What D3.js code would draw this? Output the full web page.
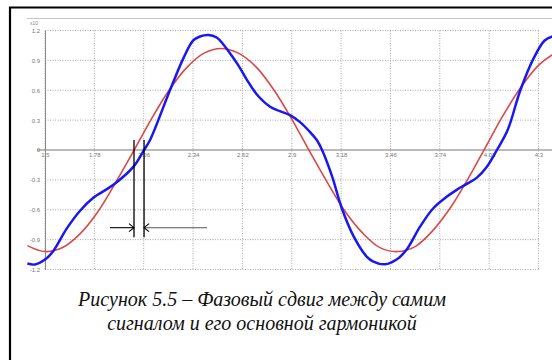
<!DOCTYPE html>
<html>
<head>
<meta charset="utf-8">
<script src="https://cdn.jsdelivr.net/npm/d3@7"></script>
<style>
  body { margin: 0; background: #fff; }
  svg { display: block; }
  .tick text { font-family: "Liberation Sans", Arial, sans-serif; font-size: 6px; fill: #777; }
  .caption { font-family: "Liberation Serif", "Times New Roman", serif; font-style: italic; font-size: 20px; fill: #111; }
</style>
</head>
<body>
<script>
var width = 552;
var height = 360;

// axis ticks
var xTicks = [1.5, 1.78, 2.06, 2.34, 2.62, 2.9, 3.18, 3.46, 3.74, 4.02, 4.3];
var yTicks = [1.2, 0.9, 0.6, 0.3, 0, -0.3, -0.6, -0.9, -1.2];

// fundamental harmonic (red)
var harmX = [1.4, 1.5, 1.6, 1.7, 1.8, 1.9, 2.0, 2.1, 2.2, 2.3, 2.4, 2.5, 2.6, 2.7, 2.8, 2.9, 3.0,
             3.1, 3.2, 3.3, 3.4, 3.5, 3.6, 3.7, 3.8, 3.9, 4.0, 4.1, 4.2, 4.3, 4.4];
var harmY = [-0.96, -1.02, -0.98, -0.84, -0.62, -0.33, -0.02, 0.30, 0.59, 0.82, 0.97, 1.02, 0.97, 0.83, 0.60, 0.31, -0.01,
             -0.32, -0.61, -0.83, -0.98, -1.02, -0.97, -0.81, -0.58, -0.29, 0.03, 0.35, 0.63, 0.85, 0.98];

// signal (blue)
var sigX = [1.40, 1.443, 1.50, 1.545, 1.623, 1.699, 1.774, 1.888, 2.001, 2.062, 2.096, 2.209, 2.285, 2.341, 2.379,
            2.427, 2.474, 2.512, 2.550, 2.597, 2.644, 2.701, 2.777, 2.833, 2.890, 2.947, 3.004, 3.042, 3.072,
            3.128, 3.183, 3.249, 3.325, 3.363, 3.429, 3.495, 3.552, 3.628, 3.703, 3.779, 3.836, 3.883, 3.949,
            4.006, 4.064, 4.125, 4.197, 4.275, 4.335, 4.38];
var sigY = [-1.14, -1.15, -1.10, -1.02, -0.79, -0.61, -0.48, -0.35, -0.17, 0.0, 0.10, 0.60, 0.92, 1.10, 1.14,
            1.155, 1.13, 1.06, 0.97, 0.85, 0.71, 0.56, 0.435, 0.39, 0.35, 0.28, 0.18, 0.10, 0.0,
            -0.26, -0.58, -0.86, -1.07, -1.12, -1.148, -1.10, -1.00, -0.77, -0.585, -0.47, -0.40, -0.35, -0.28,
            -0.17, 0.0, 0.20, 0.60, 0.93, 1.10, 1.14];

// phase shift markers: zero crossings of harmonic and signal
var shiftX = [2.005, 2.062];

var svg = d3.select('body').append('svg')
    .attr('width', width)
    .attr('height', height);

// page frame
svg.append('path')
    .attr('d', 'M10,360 V7.5 H552')
    .attr('fill', 'none')
    .attr('stroke', '#000')
    .attr('stroke-width', 2.2);

// screenshot edge
svg.append('line')
    .attr('x1', 27).attr('x2', width)
    .attr('y1', 18.5).attr('y2', 18.5)
    .attr('stroke', '#c4c4c4')
    .attr('stroke-width', 1.2);

var x = d3.scaleLinear().domain([1.5, 4.3]).range([45, 538.5]);
var y = d3.scaleLinear().domain([-1.2, 1.2]).range([269.5, 30.5]);

// grid
var grid = svg.append('g').attr('stroke', '#aaa').attr('stroke-dasharray', '1,1.5').attr('stroke-width', 1);
grid.selectAll('.vg').data(xTicks).enter().append('line')
    .attr('x1', function (d) { return x(d) }).attr('x2', function (d) { return x(d) })
    .attr('y1', y(1.2)).attr('y2', y(-1.2));
grid.selectAll('.hg').data(yTicks.filter(function (d) { return d !== 0 })).enter().append('line')
    .attr('x1', x(1.5)).attr('x2', x(4.3))
    .attr('y1', function (d) { return y(d) }).attr('y2', function (d) { return y(d) });

// axes
var xAxis = d3.axisBottom(x).tickValues(xTicks).tickSize(0).tickPadding(3)
    .tickFormat(function (d) { return String(d) });
svg.append('g')
    .attr('class', 'x axis')
    .attr('transform', 'translate(0,' + y(0) + ')')
    .call(xAxis)
    .call(function (g) { g.select('.domain').remove() });
svg.append('line')
    .attr('x1', 37).attr('x2', width)
    .attr('y1', y(0)).attr('y2', y(0))
    .attr('stroke', '#777').attr('stroke-width', 1);

var yAxis = d3.axisLeft(y).tickValues(yTicks).tickSize(0).tickPadding(5)
    .tickFormat(function (d) { return String(d) });
svg.append('g')
    .attr('class', 'y axis')
    .attr('transform', 'translate(' + x(1.5) + ',0)')
    .call(yAxis)
    .call(function (g) { g.select('.domain').attr('stroke', '#888') });

svg.append('text')
    .attr('x', 30).attr('y', 25)
    .style('font-family', 'Liberation Sans, sans-serif')
    .style('font-size', '5px')
    .style('fill', '#888')
    .text('x10');

// curves
var line = d3.line()
    .x(function (d) { return x(d[0]) })
    .y(function (d) { return y(d[1]) })
    .curve(d3.curveCatmullRom.alpha(0.5));

svg.append('path')
    .datum(d3.zip(harmX, harmY))
    .attr('d', line)
    .attr('fill', 'none')
    .attr('stroke', '#dc4848')
    .attr('stroke-width', 1.6);

svg.append('path')
    .datum(d3.zip(sigX, sigY))
    .attr('d', line)
    .attr('fill', 'none')
    .attr('stroke', '#1818f0')
    .attr('stroke-width', 2.5);

// phase shift markers
svg.selectAll('.mark').data(shiftX).enter().append('line')
    .attr('x1', function (d) { return x(d) }).attr('x2', function (d) { return x(d) })
    .attr('y1', y(0.1)).attr('y2', y(-0.875))
    .attr('stroke', '#000').attr('stroke-width', 1.3);

var ay = y(-0.78);
svg.append('line')
    .attr('x1', x(shiftX[0]) - 24).attr('x2', x(shiftX[0]))
    .attr('y1', ay).attr('y2', ay)
    .attr('stroke', '#000').attr('stroke-width', 1.1);
svg.append('path')
    .attr('d', 'M' + (x(shiftX[0]) - 5) + ',' + (ay - 4) + ' L' + x(shiftX[0]) + ',' + ay + ' L' + (x(shiftX[0]) - 5) + ',' + (ay + 4))
    .attr('fill', 'none').attr('stroke', '#000').attr('stroke-width', 1.1);
svg.append('line')
    .attr('x1', x(shiftX[1])).attr('x2', x(shiftX[1]) + 63)
    .attr('y1', ay).attr('y2', ay)
    .attr('stroke', '#555').attr('stroke-width', 1.1);
svg.append('path')
    .attr('d', 'M' + (x(shiftX[1]) + 5) + ',' + (ay - 4) + ' L' + x(shiftX[1]) + ',' + ay + ' L' + (x(shiftX[1]) + 5) + ',' + (ay + 4))
    .attr('fill', 'none').attr('stroke', '#000').attr('stroke-width', 1.1);

// caption
svg.append('text').attr('class', 'caption')
    .attr('x', 262).attr('y', 306).attr('text-anchor', 'middle')
    .text('Рисунок 5.5 – Фазовый сдвиг между самим');
svg.append('text').attr('class', 'caption')
    .attr('x', 262).attr('y', 330).attr('text-anchor', 'middle')
    .text('сигналом и его основной гармоникой');
</script>
</body>
</html>
